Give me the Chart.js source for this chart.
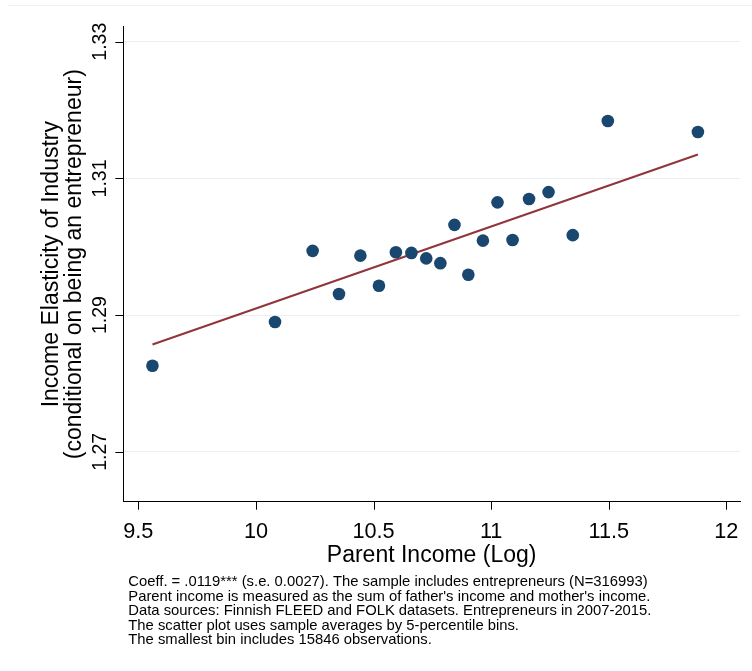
<!DOCTYPE html>
<html>
<head>
<meta charset="utf-8">
<title>Income Elasticity of Industry</title>
<script src="https://cdn.jsdelivr.net/npm/chart.js@4.4.1/dist/chart.umd.min.js"></script>
<style>
    body { margin: 0; background: #ffffff; }
    canvas { display: block; }
</style>
</head>
<body>
<canvas id="elasticityChart" width="752" height="671"></canvas>
<script>
// DATA (5-percentile bins)
const incomeX = [9.560, 10.081, 10.241, 10.353, 10.444, 10.523, 10.595, 10.661, 10.724, 10.784,
                 10.844, 10.903, 10.965, 11.027, 11.091, 11.161, 11.244, 11.347, 11.496, 11.879];
const elasticityY = [1.2826, 1.2890, 1.2994, 1.2931, 1.2987, 1.2943, 1.2992, 1.2991, 1.2983, 1.2976,
                     1.3032, 1.2959, 1.3009, 1.3065, 1.3010, 1.3070, 1.3080, 1.3017, 1.3184, 1.3168];

// FITTED LINE END POINTS
const fitX = [9.560, 11.879];
const fitY = [1.2857, 1.3135];

// TICKS
const xTicks = [9.5, 10, 10.5, 11, 11.5, 12];
const xTickLabels = ["9.5", "10", "10.5", "11", "11.5", "12"];
const yTicks = [1.27, 1.29, 1.31, 1.33];
const yTickLabels = ["1.27", "1.29", "1.31", "1.33"];

const notes = [
    "Coeff. = .0119*** (s.e. 0.0027). The sample includes entrepreneurs (N=316993)",
    "Parent income is measured as the sum of father's income and mother's income.",
    "Data sources: Finnish FLEED and FOLK datasets. Entrepreneurs in 2007-2015.",
    "The scatter plot uses sample averages by 5-percentile bins.",
    "The smallest bin includes 15846 observations."
];

const FONT = "'Liberation Sans', Arial, sans-serif";

document.addEventListener("DOMContentLoaded", function () {

    const ctx = document.getElementById("elasticityChart").getContext("2d");

    // draws tick marks, tick labels, axis titles and the notes
    const stataText = {
        id: "stataText",
        afterDraw(chart) {
            const c = chart.ctx;
            const xs = chart.scales.x;
            const ys = chart.scales.y;
            const area = chart.chartArea;

            c.save();
            c.lineWidth = 1;

            // faint outer border line at top
            c.strokeStyle = "#eef2f5";
            c.beginPath();
            c.moveTo(8, 5.5);
            c.lineTo(752, 5.5);
            c.stroke();

            c.strokeStyle = "#000000";
            c.fillStyle = "#000000";

            // X TICKS
            c.font = "21.7px " + FONT;
            c.textAlign = "center";
            c.textBaseline = "alphabetic";
            xTicks.forEach(function (v, i) {
                const px = Math.round(xs.getPixelForValue(v)) + 0.5;
                c.beginPath();
                c.moveTo(px, area.bottom);
                c.lineTo(px, area.bottom + 8);
                c.stroke();
                c.fillText(xTickLabels[i], xs.getPixelForValue(v), 537.5);
            });

            // Y TICKS (rotated labels)
            c.font = "19.5px " + FONT;
            yTicks.forEach(function (v, i) {
                const py = Math.round(ys.getPixelForValue(v)) + 0.5;
                c.beginPath();
                c.moveTo(area.left, py);
                c.lineTo(area.left - 8, py);
                c.stroke();
                c.save();
                c.translate(105.5, ys.getPixelForValue(v));
                c.rotate(-Math.PI / 2);
                c.fillText(yTickLabels[i], 0, 0);
                c.restore();
            });

            // AXIS TITLES
            c.font = "23px " + FONT;
            c.fillText("Parent Income (Log)", (area.left + area.right) / 2, 561.5);

            const midY = (area.top + area.bottom) / 2;
            c.save();
            c.translate(58, midY);
            c.rotate(-Math.PI / 2);
            c.fillText("Income Elasticity of Industry", 0, 0);
            c.restore();
            c.save();
            c.translate(80.5, midY);
            c.rotate(-Math.PI / 2);
            c.fillText("(conditional on being an entrepreneur)", 0, 0);
            c.restore();

            // NOTES
            c.font = "14.8px " + FONT;
            c.textAlign = "left";
            notes.forEach(function (line, i) {
                c.fillText(line, 128.3, 586 + i * 14.6);
            });

            c.restore();
        }
    };

    new Chart(ctx, {
        type: "scatter",
        data: {
            datasets: [{
                label: "Bins",
                data: incomeX.map(function (x, i) { return { x: x, y: elasticityY[i] }; }),
                backgroundColor: "#1a476f",
                borderWidth: 0,
                pointRadius: 6.3,
                pointHoverRadius: 6.3,
                order: 1
            }, {
                label: "Fit",
                type: "line",
                data: fitX.map(function (x, i) { return { x: x, y: fitY[i] }; }),
                borderColor: "#90353b",
                borderWidth: 2,
                pointRadius: 0,
                fill: false,
                order: 2
            }]
        },
        options: {
            responsive: false,
            devicePixelRatio: 1,
            animation: false,
            layout: {
                autoPadding: false,
                padding: { left: 123.3, right: 12, top: 26.7, bottom: 169.3 }
            },
            plugins: {
                legend: { display: false },
                tooltip: { enabled: false }
            },
            scales: {
                x: {
                    type: "linear",
                    min: 9.436,
                    max: 12.058,
                    ticks: { display: false },
                    grid: { display: false, drawTicks: false },
                    border: { display: true, color: "#000000", width: 1 },
                    afterBuildTicks: function (scale) {
                        scale.ticks = xTicks.map(function (v) { return { value: v }; });
                    }
                },
                y: {
                    type: "linear",
                    min: 1.2627,
                    max: 1.3322,
                    ticks: { display: false },
                    grid: { color: "#e8eef2", lineWidth: 1, drawTicks: false },
                    border: { display: true, color: "#000000", width: 1 },
                    afterBuildTicks: function (scale) {
                        scale.ticks = yTicks.map(function (v) { return { value: v }; });
                    }
                }
            }
        },
        plugins: [stataText]
    });

});
</script>
</body>
</html>
